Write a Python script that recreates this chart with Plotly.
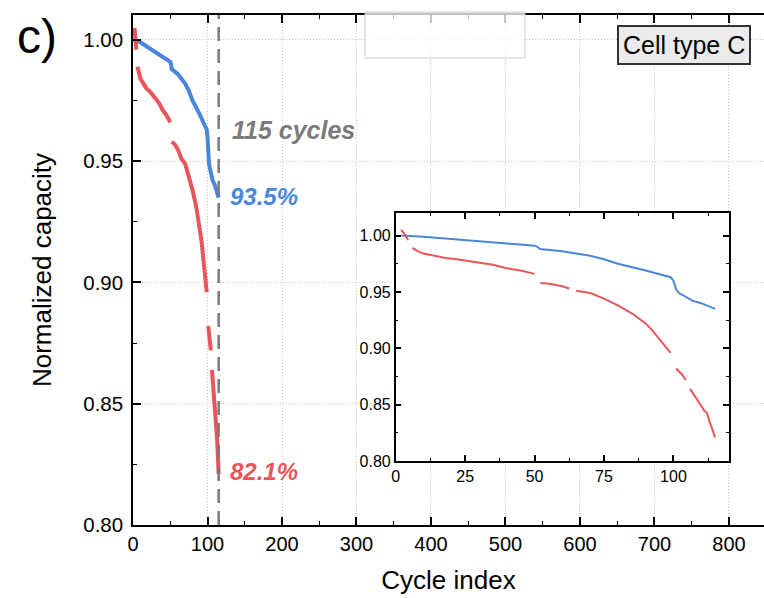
import plotly.graph_objects as go

# Cell type C: normalized capacity versus cycle index for two cells
blue_cycle = [2, 10, 20, 25, 30, 40, 50, 51, 52, 60, 70, 75, 80, 90, 95, 99, 100, 101, 102, 104, 107, 110, 115]
blue_capacity = [1.000, 0.999, 0.997, 0.996, 0.995, 0.993, 0.991, 0.990, 0.988, 0.986, 0.982, 0.979, 0.975,
                 0.969, 0.966, 0.963, 0.960, 0.952, 0.949, 0.946, 0.942, 0.940, 0.935]

# red cell is logged in segments; None marks the gaps between them
red_cycle = [2, 3, 4.5, None,
             6, 8, 10, 14, 18, 22, 25, 30, 35, 40, 45, 50, None,
             52, 56, 60, 62.5, None,
             65, 70, 75, 80, 85, 90, 92, 94, 96, 99, None,
             101, 103, 104.5, None,
             106, 108, 110, 111, 112, 113, 115]
red_capacity = [1.005, 1.002, 0.996, None,
                0.989, 0.986, 0.984, 0.982, 0.980, 0.979, 0.978, 0.976, 0.974, 0.971, 0.969, 0.966, None,
                0.958, 0.957, 0.955, 0.953, None,
                0.951, 0.949, 0.944, 0.938, 0.931, 0.922, 0.917, 0.911, 0.905, 0.896, None,
                0.882, 0.877, 0.872, None,
                0.864, 0.857, 0.849, 0.845, 0.843, 0.835, 0.821]

end_cycle = 115
blue_end_label = "93.5%"
red_end_label = "82.1%"

main_x_ticks = [0, 100, 200, 300, 400, 500, 600, 700, 800]
main_y_ticks = [0.80, 0.85, 0.90, 0.95, 1.00]
inset_x_ticks = [0, 25, 50, 75, 100]
inset_y_ticks = [0.80, 0.85, 0.90, 0.95, 1.00]

BLUE = "#4a86d9"
RED = "#e8555a"
GRAY = "#7a7a7a"
FONT = "Arial"


def bridge_small_gaps(xs, ys, min_step=0.004):
    """At full scale, gaps with a capacity step below min_step are not resolved: join them."""
    out_x, out_y = [], []
    for i, (x, y) in enumerate(zip(xs, ys)):
        if y is None:
            prev_y, next_y = ys[i - 1], ys[i + 1]
            if abs(prev_y - next_y) < min_step:
                continue
        out_x.append(x)
        out_y.append(y)
    return out_x, out_y


red_main_x, red_main_y = bridge_small_gaps(red_cycle, red_capacity)

fig = go.Figure()

fig.add_trace(go.Scatter(x=blue_cycle, y=blue_capacity, mode="lines",
                         line=dict(color=BLUE, width=4), xaxis="x", yaxis="y", showlegend=False))
fig.add_trace(go.Scatter(x=red_main_x, y=red_main_y, mode="lines", connectgaps=False,
                         line=dict(color=RED, width=4), xaxis="x", yaxis="y", showlegend=False))
fig.add_trace(go.Scatter(x=[end_cycle, end_cycle], y=[0.80, 1.0103], mode="lines",
                         line=dict(color=GRAY, width=2.5, dash="14px,8px"),
                         xaxis="x", yaxis="y", showlegend=False))

# inset: zoom on the first 115 cycles
fig.add_trace(go.Scatter(x=blue_cycle, y=blue_capacity, mode="lines",
                         line=dict(color=BLUE, width=2), xaxis="x2", yaxis="y2", showlegend=False))
fig.add_trace(go.Scatter(x=red_cycle, y=red_capacity, mode="lines", connectgaps=False,
                         line=dict(color=RED, width=2), xaxis="x2", yaxis="y2", showlegend=False))

axis_common = dict(showline=True, linecolor="black", linewidth=1.5, ticks="inside",
                   tickcolor="black", tickwidth=1.5, zeroline=False)

fig.update_layout(
    width=764, height=598,
    margin=dict(l=133, r=0, t=15, b=73),
    paper_bgcolor="white", plot_bgcolor="white",
    font=dict(family=FONT, color="black"),
    xaxis=dict(**axis_common, domain=[0, 1], range=[0, 847], tickvals=main_x_ticks,
               ticklen=8, mirror="ticks",
               minor=dict(dtick=50, tick0=0, ticks="inside", ticklen=4, tickcolor="black", tickwidth=1.2),
               showgrid=True, gridcolor="#c4c4c4", griddash="1px,2px", gridwidth=1,
               tickfont=dict(size=20),
               title=dict(text="Cycle index", font=dict(size=26), standoff=17)),
    yaxis=dict(**axis_common, domain=[0, 1], range=[0.80, 1.0103], tickvals=main_y_ticks,
               ticktext=[f"{v:.2f}" for v in main_y_ticks], ticklen=8, mirror=False,
               ticklabelstandoff=4,
               minor=dict(dtick=0.025, tick0=0.8, ticks="inside", ticklen=4, tickcolor="black", tickwidth=1.2),
               showgrid=True, gridcolor="#c4c4c4", griddash="1px,2px", gridwidth=1,
               tickfont=dict(size=20.5),
               title=dict(text="Normalized capacity", font=dict(size=26), standoff=24)),
    xaxis2=dict(**axis_common, domain=[0.4163, 0.9445], range=[0, 120], tickvals=inset_x_ticks,
                anchor="y2", mirror="allticks", ticklen=6, showgrid=False,
                minor=dict(dtick=12.5, tick0=0, ticks="inside", ticklen=3, tickcolor="black", tickwidth=1.2),
                tickfont=dict(size=16)),
    yaxis2=dict(**axis_common, domain=[0.1255, 0.6118], range=[0.80, 1.02], tickvals=inset_y_ticks,
                ticktext=[f"{v:.2f}" for v in inset_y_ticks],
                anchor="x2", mirror="allticks", ticklen=6, showgrid=False,
                minor=dict(dtick=0.025, tick0=0.8, ticks="inside", ticklen=3, tickcolor="black", tickwidth=1.2),
                tickfont=dict(size=16)),
)

# faint empty frame near the top edge
fig.add_shape(type="rect", xref="paper", yref="paper", x0=0.3677, x1=0.6212, y0=0.9157, y1=1.0059,
              line=dict(color="#cccccc", width=1), fillcolor="rgba(255,255,255,0.75)", layer="above")

fig.add_annotation(x=end_cycle + 15, y=0.9629, xref="x", yref="y", xanchor="left", yanchor="middle",
                   text=f"<b><i>{end_cycle} cycles</i></b>", showarrow=False,
                   font=dict(size=25, color=GRAY, family=FONT))
fig.add_annotation(x=end_cycle + 12.5, y=0.9353, xref="x", yref="y", xanchor="left", yanchor="middle",
                   text=f"<b><i>{blue_end_label}</i></b>", showarrow=False,
                   font=dict(size=24, color=BLUE, family=FONT))
fig.add_annotation(x=end_cycle + 12.5, y=0.822, xref="x", yref="y", xanchor="left", yanchor="middle",
                   text=f"<b><i>{red_end_label}</i></b>", showarrow=False,
                   font=dict(size=24, color=RED, family=FONT))

fig.add_annotation(x=0.874, y=0.941, xref="paper", yref="paper", xanchor="center", yanchor="middle",
                   text="Cell type C", showarrow=False, bgcolor="#ebebeb", bordercolor="#333333",
                   borderwidth=2, borderpad=4, font=dict(size=25, color="black", family=FONT))

fig.add_annotation(x=-0.152, y=0.957, xref="paper", yref="paper", xanchor="center", yanchor="middle",
                   text="c)", showarrow=False, font=dict(size=48, color="black", family=FONT))

fig.write_html("out.html")
